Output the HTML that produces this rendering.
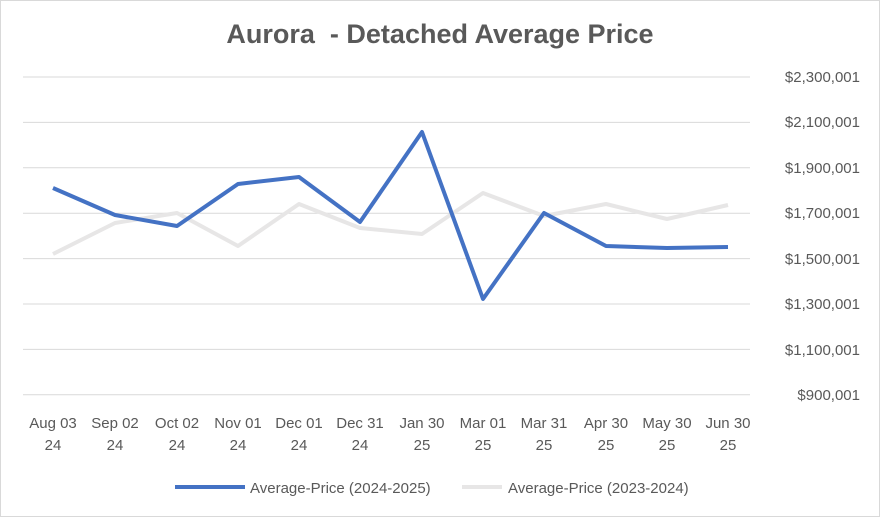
<!DOCTYPE html>
<html><head><style>
body{margin:0;background:#fff;}
svg text{font-family:"Liberation Sans",sans-serif;}
</style></head><body>
<svg width="880" height="517" xmlns="http://www.w3.org/2000/svg">
<rect x="0.5" y="0.5" width="879" height="516" fill="#fff" stroke="#d9d9d9"/>
<text x="440" y="43" text-anchor="middle" font-size="27" font-weight="bold" fill="#595959" xml:space="preserve">Aurora  - Detached Average Price</text>
<g stroke="#d9d9d9" stroke-width="1">
<line x1="23" x2="750" y1="77" y2="77"/><line x1="23" x2="750" y1="122.4" y2="122.4"/>
<line x1="23" x2="750" y1="167.8" y2="167.8"/><line x1="23" x2="750" y1="213.2" y2="213.2"/>
<line x1="23" x2="750" y1="258.6" y2="258.6"/><line x1="23" x2="750" y1="304" y2="304"/>
<line x1="23" x2="750" y1="349.4" y2="349.4"/><line x1="23" x2="750" y1="394.8" y2="394.8"/>
</g>
<g font-size="15" fill="#595959" text-anchor="end">
<text x="860" y="82">$2,300,001</text><text x="860" y="127">$2,100,001</text>
<text x="860" y="173">$1,900,001</text><text x="860" y="218">$1,700,001</text>
<text x="860" y="264">$1,500,001</text><text x="860" y="309">$1,300,001</text>
<text x="860" y="355">$1,100,001</text><text x="860" y="400">$900,001</text>
</g>
<g font-size="15" fill="#595959" text-anchor="middle">
<text x="53" y="428">Aug 03</text><text x="53" y="450">24</text>
<text x="115" y="428">Sep 02</text><text x="115" y="450">24</text>
<text x="177" y="428">Oct 02</text><text x="177" y="450">24</text>
<text x="238" y="428">Nov 01</text><text x="238" y="450">24</text>
<text x="299" y="428">Dec 01</text><text x="299" y="450">24</text>
<text x="360" y="428">Dec 31</text><text x="360" y="450">24</text>
<text x="422" y="428">Jan 30</text><text x="422" y="450">25</text>
<text x="483" y="428">Mar 01</text><text x="483" y="450">25</text>
<text x="544" y="428">Mar 31</text><text x="544" y="450">25</text>
<text x="606" y="428">Apr 30</text><text x="606" y="450">25</text>
<text x="667" y="428">May 30</text><text x="667" y="450">25</text>
<text x="728" y="428">Jun 30</text><text x="728" y="450">25</text>
</g>
<polyline fill="none" stroke="#e7e6e6" stroke-width="4" stroke-linejoin="round" points="53,254 115,223 177,213 238,246 299,204 360,228 422,234 483,193 544,216 606,204 667,219 728,205"/>
<polyline fill="none" stroke="#4472c4" stroke-width="4" stroke-linejoin="round" points="53,188 115,215 177,226 238,184 299,177 360,222 422,132 483,299 544,213 606,246 667,248 728,247"/>
<line x1="175" x2="245" y1="487" y2="487" stroke="#4472c4" stroke-width="4"/>
<text x="250" y="493" font-size="15" fill="#595959">Average-Price (2024-2025)</text>
<line x1="462" x2="502" y1="487" y2="487" stroke="#e7e6e6" stroke-width="4"/>
<text x="508" y="493" font-size="15" fill="#595959">Average-Price (2023-2024)</text>
</svg>
</body></html>
